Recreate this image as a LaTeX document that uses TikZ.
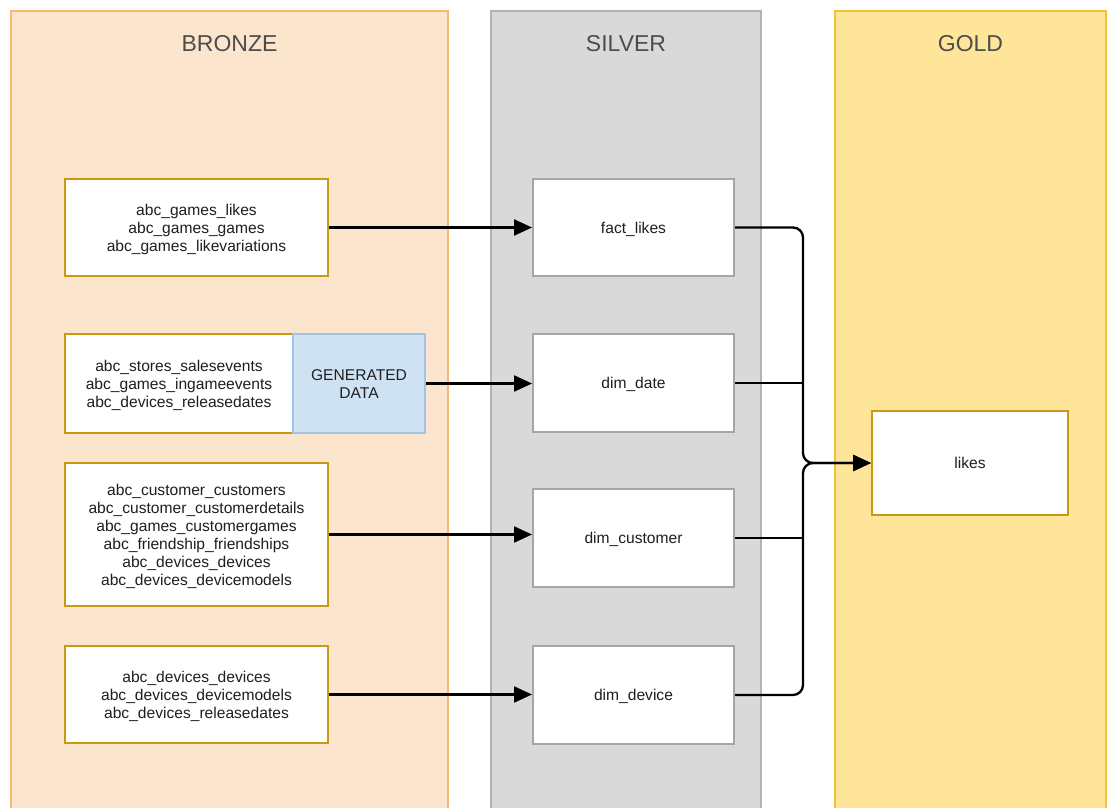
\documentclass[tikz,border=0pt]{standalone}
\usepackage{fontspec}
\setmainfont{Liberation Sans}
\usetikzlibrary{arrows.meta}
\definecolor{bronzefill}{HTML}{FCE5CD}
\definecolor{bronzeline}{HTML}{F9B770}
\definecolor{silverfill}{HTML}{D9D9D9}
\definecolor{silverline}{HTML}{B3B3B3}
\definecolor{goldfill}{HTML}{FFE599}
\definecolor{goldline}{HTML}{F1C232}
\definecolor{srcline}{HTML}{C79A12}
\definecolor{tblline}{HTML}{A6A6A6}
\definecolor{genfill}{HTML}{CFE2F3}
\definecolor{genline}{HTML}{A4C2E8}
\definecolor{titlegray}{HTML}{4D4D4D}
\definecolor{textdark}{HTML}{1F1F1F}
\tikzset{
  layer/.style={line width=2pt},
  layertitle/.style={font=\fontsize{23}{27}\selectfont, text=titlegray},
  boxtext/.style={align=center, font=\fontsize{15.6}{18}\selectfont,
    text=textdark, inner sep=0pt},
  srcbox/.style={boxtext, draw=srcline, fill=white, line width=2pt},
  genbox/.style={boxtext, draw=genline, fill=genfill, line width=2pt},
  tblbox/.style={boxtext, draw=tblline, fill=white, line width=2pt},
  goldbox/.style={boxtext, draw=srcline, fill=white, line width=2pt},
  flow/.style={line width=2.3pt, -{Triangle[length=18pt,width=16pt]}},
  link/.style={line width=2.3pt},
}
% lowers a multi-line label slightly inside its box, keeping its size
\newcommand{\boxlines}[1]{\raisebox{-2pt}[\height][\depth]{\begin{tabular}{@{}c@{}}#1\end{tabular}}}
\begin{document}
\begin{tikzpicture}[x=1pt,y=-1pt]
\useasboundingbox (0,0) rectangle (1108,808);
\fill[white] (0,0) rectangle (1108,808);

% medallion layers
\draw[layer, draw=bronzeline, fill=bronzefill] (11,11) rectangle (448,830);
\draw[layer, draw=silverline, fill=silverfill] (491,11) rectangle (761,830);
\draw[layer, draw=goldline, fill=goldfill] (835,11) rectangle (1106,830);

\node[layertitle] (tb) at (229.5,44) {BRONZE};
\node[layertitle] (ts) at (626,44) {SILVER};
\node[layertitle] (tg) at (970.5,44) {GOLD};

% bronze sources
\node[srcbox, minimum width=263pt, minimum height=97pt] (b1) at (196.5,227.5)
  {\boxlines{abc\_games\_likes\\abc\_games\_games\\abc\_games\_likevariations}};
\node[srcbox, minimum width=228pt, minimum height=99pt] (b2) at (179,383.5)
  {\boxlines{abc\_stores\_salesevents\\abc\_games\_ingameevents\\abc\_devices\_releasedates}};
\node[genbox, minimum width=132pt, minimum height=99pt] (gen) at (359,383.5)
  {\boxlines{GENERATED\\DATA}};
\node[srcbox, minimum width=263pt, minimum height=143pt] (b3) at (196.5,534.5)
  {\boxlines{abc\_customer\_customers\\abc\_customer\_customerdetails\\abc\_games\_customergames\\abc\_friendship\_friendships\\abc\_devices\_devices\\abc\_devices\_devicemodels}};
\node[srcbox, minimum width=263pt, minimum height=97pt] (b4) at (196.5,694.5)
  {\boxlines{abc\_devices\_devices\\abc\_devices\_devicemodels\\abc\_devices\_releasedates}};

% silver tables
\node[tblbox, minimum width=201pt, minimum height=97pt] (s1) at (633.5,227.5) {\boxlines{fact\_likes}};
\node[tblbox, minimum width=201pt, minimum height=98pt] (s2) at (633.5,383) {\boxlines{dim\_date}};
\node[tblbox, minimum width=201pt, minimum height=98pt] (s3) at (633.5,538) {\boxlines{dim\_customer}};
\node[tblbox, minimum width=201pt, minimum height=98pt] (s4) at (633.5,695) {\boxlines{dim\_device}};

% gold table
\node[goldbox, minimum width=196pt, minimum height=104pt] (likes) at (970,463) {\boxlines{likes}};

% bronze to silver
\draw[flow] (b1.east) -- (b1.east -| s1.west);
\draw[flow] (gen.east) -- (gen.east -| s2.west);
\draw[flow] (b3.east) -- (b3.east -| s3.west);
\draw[flow] (b4.east) -- (b4.east -| s4.west);

% silver to gold
\coordinate (bus) at (803,463);
\draw[link] (s2.east) -- (s2.east -| bus);
\draw[link] (s3.east) -- (s3.east -| bus);
\draw[flow, rounded corners=10pt] (s1.east) -- (s1.east -| bus) -- (bus) -- (likes.west);
\draw[flow, rounded corners=10pt] (s4.east) -- (s4.east -| bus) -- (bus) -- (likes.west);
\end{tikzpicture}
\end{document}
